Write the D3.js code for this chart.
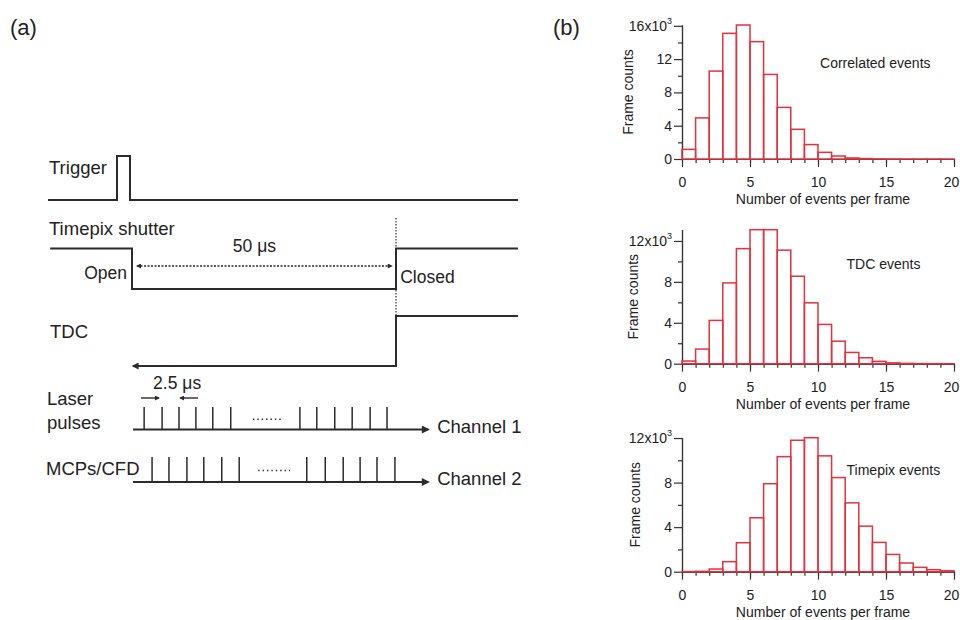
<!DOCTYPE html>
<html>
<head>
<meta charset="utf-8">
<script src="https://cdn.jsdelivr.net/npm/d3@7"></script>
<style>
  body { margin: 0; background: #fff; }
  svg { font-family: "Liberation Sans", Arial, sans-serif; }
  .axis path, .axis line { stroke: #333; stroke-width: 1.2; }
  .axis text { font-size: 14px; fill: #222; font-family: "Liberation Sans", Arial, sans-serif; }
</style>
</head>
<body>
<svg id="chart" width="960" height="620"></svg>
<script>
// histogram bins (number of events per frame)
var bins = [0,1,2,3,4,5,6,7,8,9,10,11,12,13,14,15,16,17,18,19]
// frame counts, in thousands
var correlated = [1.16, 4.94, 10.56, 15.1, 16.1, 14.1, 10.16, 6.2, 3.57, 1.73, 0.8, 0.36, 0.12, 0.05, 0.02, 0.01, 0.005, 0.003, 0.002, 0.001]
var tdcEvents = [0.26, 1.43, 4.23, 7.9, 11.25, 13.1, 13.1, 11.1, 8.55, 5.95, 3.84, 2.2, 1.1, 0.58, 0.23, 0.08, 0.03, 0.01, 0.005, 0.002]
var timepixEvents = [0.01, 0.03, 0.24, 0.9, 2.6, 4.84, 7.9, 10.33, 11.8, 12.03, 10.4, 8.45, 6.18, 4.09, 2.63, 1.55, 0.78, 0.39, 0.18, 0.08]
var xTicks = [0, 5, 10, 15, 20]
var yTicks1 = [0, 4, 8, 12, 16]
var yTicks2 = [0, 4, 8, 12]

// timing diagram, schematic times in microseconds (shutter window = 50 us)
var triggerT = [-15.9, -2.84, -0.38, 73.1]   // start, rise, fall, end
var shutterT = [-15.5, 0, 50, 73.1]          // start, open, closed, end
var tdcT = [0.2, 50, 73.1]                   // arrow tip, step, end
var laserPulses = [2.3, 5.7, 8.9, 12.1, 15.3, 18.7, 31.8, 35.0, 38.4, 41.7, 45.1, 48.3]
var mcpPulses = [3.8, 7.0, 10.4, 13.6, 17.0, 20.3, 33.1, 36.6, 40.0, 43.2, 46.4, 49.8]
var laserDots = [22.9, 28.2]
var mcpDots = [23.9, 29.9]
var channelAxis = [0.2, 56.1]

var svg = d3.select("#chart")
var ink = "#2b2b2b"
var red = "#e3323e"

// ---------- (a) timing diagram ----------
var sx = d3.scaleLinear().domain([0, 50]).range([132, 396])

var defs = svg.append("defs")
function marker(id, len, wid) {
  defs.append("marker")
    .attr("id", id)
    .attr("viewBox", "0 0 10 10")
    .attr("refX", 8).attr("refY", 5)
    .attr("markerUnits", "userSpaceOnUse")
    .attr("markerWidth", len).attr("markerHeight", wid)
    .attr("orient", "auto-start-reverse")
    .append("path").attr("d", "M0,0L10,5L0,10z").attr("fill", ink)
}
marker("arrBig", 12, 8)
marker("arrMid", 10, 7)
marker("arrSmall", 6, 5)

var g = svg.append("g")
var line = d3.line().x(d => sx(d[0])).y(d => d[1])

// trigger
var tLo = 200, tHi = 156
g.append("path")
  .attr("d", line([[triggerT[0], tLo], [triggerT[1], tLo], [triggerT[1], tHi], [triggerT[2], tHi], [triggerT[2], tLo], [triggerT[3], tLo]]))
  .attr("fill", "none").attr("stroke", ink).attr("stroke-width", 2)

// shutter
var sHi = 248.5, sLo = 289
g.append("path")
  .attr("d", line([[shutterT[0], sHi], [shutterT[1], sHi], [shutterT[1], sLo], [shutterT[2], sLo], [shutterT[2], sHi], [shutterT[3], sHi]]))
  .attr("fill", "none").attr("stroke", ink).attr("stroke-width", 2)

// TDC
var dHi = 316, dLo = 366
g.append("path")
  .attr("d", line([[tdcT[2], dHi], [tdcT[1], dHi], [tdcT[1], dLo], [tdcT[0], dLo]]))
  .attr("fill", "none").attr("stroke", ink).attr("stroke-width", 2)
  .attr("marker-end", "url(#arrMid)")

// dotted vertical at shutter close
g.append("line")
  .attr("x1", sx(50)).attr("x2", sx(50)).attr("y1", 218).attr("y2", dHi)
  .attr("stroke", ink).attr("stroke-width", 1.2).attr("stroke-dasharray", "1.5,1.5")

// 50 us double arrow
g.append("line")
  .attr("x1", sx(0.95)).attr("x2", sx(49.2)).attr("y1", 266).attr("y2", 266)
  .attr("stroke", ink).attr("stroke-width", 1.3).attr("stroke-dasharray", "2,1.5")
  .attr("marker-start", "url(#arrSmall)").attr("marker-end", "url(#arrSmall)")

// pulse channels
function channel(pulses, dots, yAxis, yTop) {
  g.append("line")
    .attr("x1", sx(channelAxis[0])).attr("x2", sx(channelAxis[1]))
    .attr("y1", yAxis).attr("y2", yAxis)
    .attr("stroke", ink).attr("stroke-width", 2)
    .attr("marker-end", "url(#arrBig)")
  g.selectAll(null).data(pulses).enter().append("line")
    .attr("x1", d => sx(d)).attr("x2", d => sx(d))
    .attr("y1", yAxis).attr("y2", yTop)
    .attr("stroke", ink).attr("stroke-width", 1.5)
  g.append("line")
    .attr("x1", sx(dots[0])).attr("x2", sx(dots[1]))
    .attr("y1", (yAxis + yTop) / 2 + 1).attr("y2", (yAxis + yTop) / 2 + 1)
    .attr("stroke", ink).attr("stroke-width", 1.4).attr("stroke-dasharray", "1.4,3")
}
channel(laserPulses, laserDots, 429.5, 407)
channel(mcpPulses, mcpDots, 482, 457)

// 2.5 us arrows
g.append("line").attr("x1", sx(1.7)).attr("x2", sx(5.1)).attr("y1", 398).attr("y2", 398)
  .attr("stroke", ink).attr("stroke-width", 1.4).attr("marker-end", "url(#arrSmall)")
g.append("line").attr("x1", sx(12.5)).attr("x2", sx(9.1)).attr("y1", 398).attr("y2", 398)
  .attr("stroke", ink).attr("stroke-width", 1.4).attr("marker-end", "url(#arrSmall)")

// diagram labels
function label(txt, x, y, size, anchor) {
  g.append("text").attr("x", x).attr("y", y)
    .attr("font-size", size).attr("fill", "#222")
    .attr("text-anchor", anchor || "start").text(txt)
}
label("Trigger", 49, 174, 18.5)
label("Timepix shutter", 49, 235, 18.5)
label("TDC", 50, 338, 18.5)
label("Laser", 47, 405, 18.5)
label("pulses", 47, 429, 18.5)
label("MCPs/CFD", 46, 475, 18.5)
label("Open", sx(-0.95), 279, 17.5, "end")
label("Closed", sx(50.8), 283, 17.5)
label("50 μs", sx(19.1), 252, 17.5)
label("2.5 μs", sx(4.0), 389, 17.5)
label("Channel 1", sx(57.8), 433, 18.5)
label("Channel 2", sx(57.8), 485, 18.5)
label("(a)", 10, 35, 22)
label("(b)", 553, 35, 22)

// ---------- (b) histograms ----------
var panels = [
  { values: correlated, ticks: yTicks1, top: 16, y0: 159, name: "Correlated events", at: [10.15, 10.95], lab: 49 },
  { values: tdcEvents, ticks: yTicks2, top: 12, y0: 363.7, name: "TDC events", at: [12.1, 9.3], lab: 44 },
  { values: timepixEvents, ticks: yTicks2, top: 12, y0: 571.7, name: "Timepix events", at: [12.1, 8.65], lab: 42 }
]

var x = d3.scaleLinear().domain([0, 20]).range([682, 954])

panels.forEach(function(p) {
  var y = d3.scaleLinear().domain([0, d3.max(p.values)]).range([p.y0, p.y0 - 134])
  var pg = svg.append("g")

  var minorY = d3.range(2, d3.max(p.values), 4)
  pg.append("g").attr("class", "axis")
    .attr("transform", "translate(" + x(0) + ",0)")
    .call(d3.axisLeft(y).tickValues(minorY).tickSize(4).tickSizeOuter(0).tickFormat(""))
  var ya = pg.append("g").attr("class", "axis")
    .attr("transform", "translate(" + x(0) + ",0)")
    .call(d3.axisLeft(y).tickValues(p.ticks).tickSize(8).tickPadding(2).tickSizeOuter(0))
  ya.selectAll(".tick text").filter(d => d == p.top)
    .text(p.top + "x10")
    .append("tspan").attr("font-size", 9).attr("dy", "-0.75em").text("3")

  pg.append("g").attr("class", "axis")
    .attr("transform", "translate(0," + p.y0 + ")")
    .call(d3.axisBottom(x).tickValues(bins.concat([20])).tickSize(4).tickSizeOuter(0).tickFormat(""))
  var xa = pg.append("g").attr("class", "axis")
    .attr("transform", "translate(0," + p.y0 + ")")
    .call(d3.axisBottom(x).tickValues(xTicks).tickSize(8).tickPadding(10).tickSizeOuter(0))
  // last label sits at the right edge of the page
  xa.selectAll(".tick text").filter(d => d == 20).attr("dx", -3)

  pg.selectAll(".bar").data(bins).enter().append("rect")
    .attr("x", d => x(d))
    .attr("width", d => x(d + 1) - x(d))
    .attr("y", (d, i) => y(p.values[i]))
    .attr("height", (d, i) => y(0) - y(p.values[i]))
    .attr("fill", "none").attr("stroke", red).attr("stroke-width", 1.5)

  pg.append("text")
    .attr("x", (x(0) + x(20)) / 2 + 5).attr("y", p.y0 + 45)
    .attr("text-anchor", "middle").attr("font-size", 14).attr("fill", "#222")
    .text("Number of events per frame")
  pg.append("text")
    .attr("transform", "translate(" + (x(0) - p.lab) + "," + (p.y0 - 67) + ") rotate(-90)")
    .attr("text-anchor", "middle").attr("font-size", 14).attr("fill", "#222")
    .text("Frame counts")
  pg.append("text")
    .attr("x", x(p.at[0])).attr("y", y(p.at[1]))
    .attr("font-size", 14).attr("fill", "#222")
    .text(p.name)
})
</script>
</body>
</html>
